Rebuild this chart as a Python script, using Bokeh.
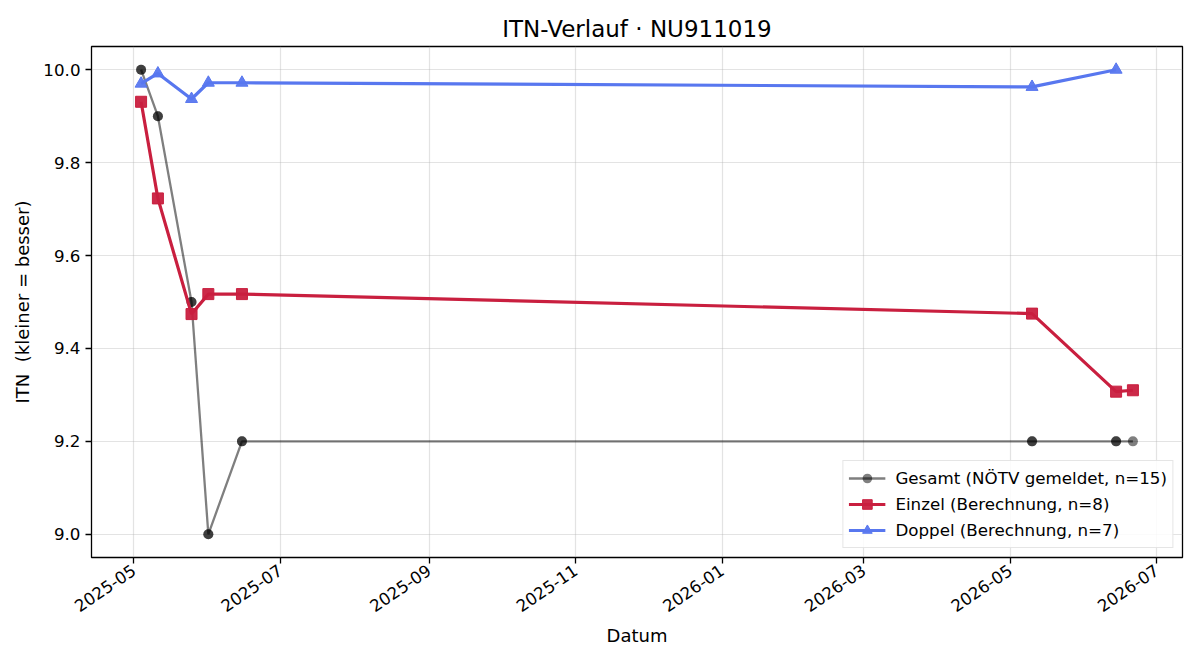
import math
import pandas as pd
from bokeh.plotting import figure
from bokeh.models import (ColumnDataSource, Range1d, FixedTicker, DatetimeTickFormatter,
                          PrintfTickFormatter, Legend, LegendItem)
from bokeh.embed import file_html
from bokeh.resources import INLINE

# ---------------- data ----------------
gesamt_dates = ["2025-05-04", "2025-05-04", "2025-05-11", "2025-05-11", "2025-05-25", "2025-05-25",
                "2025-06-01", "2025-06-01", "2025-06-15", "2025-06-15", "2026-05-10", "2026-05-10",
                "2026-06-14", "2026-06-14", "2026-06-21"]
gesamt_itn = [10.0, 10.0, 9.9, 9.9, 9.5, 9.5, 9.0, 9.0, 9.2, 9.2, 9.2, 9.2, 9.2, 9.2, 9.2]

einzel_dates = ["2025-05-04", "2025-05-11", "2025-05-25", "2025-06-01", "2025-06-15",
                "2026-05-10", "2026-06-14", "2026-06-21"]
einzel_itn = [9.931, 9.723, 9.474, 9.517, 9.517, 9.475, 9.307, 9.310]

doppel_dates = ["2025-05-04", "2025-05-11", "2025-05-25", "2025-06-01", "2025-06-15",
                "2026-05-10", "2026-06-14"]
doppel_itn = [9.970, 9.992, 9.937, 9.972, 9.972, 9.963, 10.0]

x_tick_dates = ["2025-05-01", "2025-07-01", "2025-09-01", "2025-11-01",
                "2026-01-01", "2026-03-01", "2026-05-01", "2026-07-01"]
y_ticks = [9.0, 9.2, 9.4, 9.6, 9.8, 10.0]

title_text = "ITN-Verlauf · NU911019"
x_label = "Datum"
y_label = "ITN\u00a0 (kleiner = besser)"
labels = ["Gesamt (NÖTV gemeldet, n=15)", "Einzel (Berechnung, n=8)", "Doppel (Berechnung, n=7)"]

# ---------------- figure ----------------
FONT = "DejaVu Sans"

def ts(s):
    return pd.Timestamp(s)

def ms(s):
    return pd.Timestamp(s).value / 1e6

all_dates = [ts(d) for d in gesamt_dates + einzel_dates + doppel_dates]
dmin, dmax = min(all_dates), max(all_dates)
pad = (dmax - dmin) * 0.05
all_y = gesamt_itn + einzel_itn + doppel_itn
ymin, ymax = min(all_y), max(all_y)
ypad = (ymax - ymin) * 0.05

p = figure(width=1200, height=660, x_axis_type="datetime",
           output_backend="svg", toolbar_location=None,
           x_range=Range1d(dmin - pad, dmax + pad),
           y_range=Range1d(ymin - ypad, ymax + ypad),
           min_border_left=91, min_border_right=18, min_border_top=46, min_border_bottom=103)

p.title.text = title_text
p.title.align = "center"
p.title.text_font = FONT
p.title.text_font_size = "23px"
p.title.text_font_style = "normal"
p.title.text_color = "black"

p.outline_line_color = "black"
p.outline_line_width = 1.3
p.outline_line_alpha = 1.0
p.background_fill_color = "white"
p.border_fill_color = "white"

for ax in [p.xaxis[0], p.yaxis[0]]:
    ax.axis_line_color = None
    ax.major_tick_line_color = "black"
    ax.major_tick_line_width = 1.3
    ax.major_tick_out = 6
    ax.major_tick_in = 0
    ax.minor_tick_line_color = None
    ax.major_label_text_font = FONT
    ax.major_label_text_font_size = "16.7px"
    ax.major_label_text_color = "black"
    ax.axis_label_text_font = FONT
    ax.axis_label_text_font_size = "18px"
    ax.axis_label_text_font_style = "normal"
    ax.axis_label_text_color = "black"

p.xaxis.ticker = FixedTicker(ticks=[ms(d) for d in x_tick_dates])
fmt = "%Y-%m"
p.xaxis.formatter = DatetimeTickFormatter(milliseconds=fmt, seconds=fmt, minsec=fmt, minutes=fmt,
                                          hourmin=fmt, hours=fmt, days=fmt, months=fmt, years=fmt)
p.xaxis.major_label_orientation = 0.6
p.xaxis.axis_label = x_label
p.xaxis.major_label_standoff = 5
p.xaxis.axis_label_standoff = 4

p.yaxis.ticker = FixedTicker(ticks=y_ticks)
p.yaxis.formatter = PrintfTickFormatter(format="%.1f")
p.yaxis.axis_label = y_label
p.yaxis.major_label_standoff = 5
p.yaxis.axis_label_standoff = 7

p.xgrid.ticker = p.xaxis.ticker
p.ygrid.ticker = p.yaxis.ticker
p.grid.grid_line_color = "#b0b0b0"
p.grid.grid_line_alpha = 0.35
p.grid.grid_line_width = 1.2

# ---------------- series ----------------
src_g = ColumnDataSource(dict(x=[ts(d) for d in gesamt_dates], y=gesamt_itn))
src_e = ColumnDataSource(dict(x=[ts(d) for d in einzel_dates], y=einzel_itn))
src_d = ColumnDataSource(dict(x=[ts(d) for d in doppel_dates], y=doppel_itn))

RED = "#c91f3f"
BLUE = "#5877ef"

lg = p.line("x", "y", source=src_g, line_color="black", line_alpha=0.5, line_width=2.3)
mg = p.scatter("x", "y", source=src_g, marker="circle", size=10,
               fill_color="black", line_color="black", fill_alpha=0.5, line_alpha=0.0)

le = p.line("x", "y", source=src_e, line_color=RED, line_width=3.2)
me = p.scatter("x", "y", source=src_e, marker="square", size=11,
               fill_color=RED, line_color=RED, fill_alpha=0.95)

ld = p.line("x", "y", source=src_d, line_color=BLUE, line_width=3.2)
md = p.scatter("x", "y", source=src_d, marker="triangle", size=12,
               fill_color=BLUE, line_color=BLUE, fill_alpha=0.95)

legend = Legend(items=[LegendItem(label=labels[0], renderers=[lg, mg]),
                       LegendItem(label=labels[1], renderers=[le, me]),
                       LegendItem(label=labels[2], renderers=[ld, md])],
                location="bottom_right")
legend.label_text_font = FONT
legend.label_text_font_size = "16.7px"
legend.label_text_color = "black"
legend.glyph_width = 37
legend.glyph_height = 24
legend.label_height = 20
legend.spacing = 2
legend.label_standoff = 10
legend.padding = 5
legend.margin = 9
legend.border_line_color = "#cccccc"
legend.border_line_width = 1.3
legend.background_fill_alpha = 0.85
p.add_layout(legend)

open("out.html", "w").write(file_html(p, INLINE))
